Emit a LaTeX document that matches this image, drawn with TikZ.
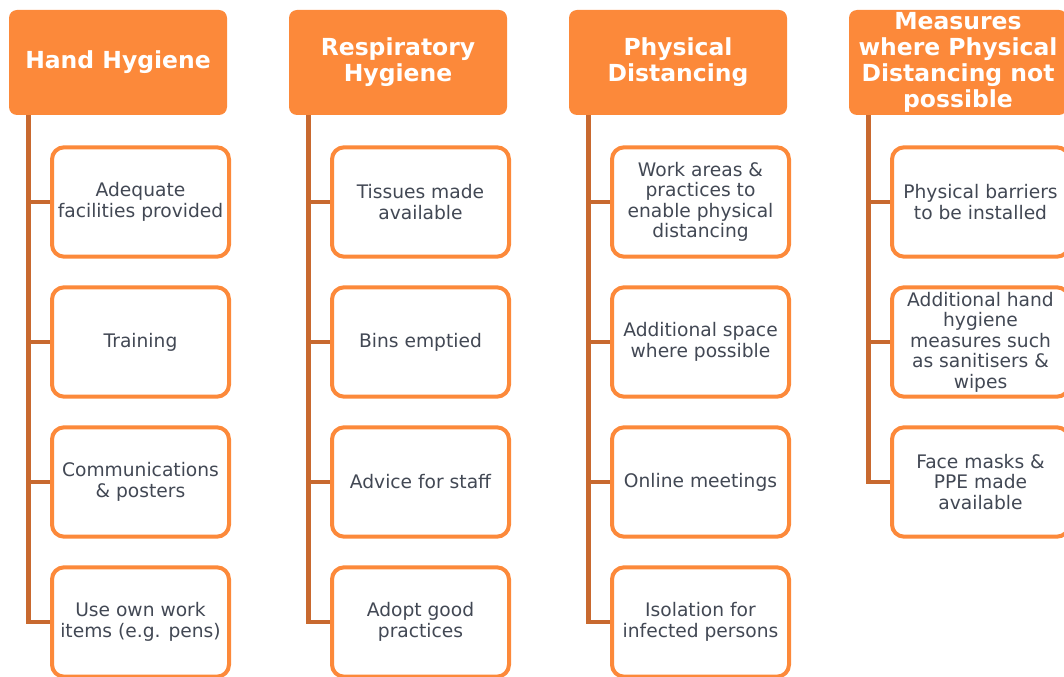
\documentclass[tikz,border=0pt]{standalone}
\usepackage{fontspec}
\setmainfont{DejaVu Sans}
\usetikzlibrary{positioning}
\definecolor{headorange}{RGB}{252, 137, 58}
\definecolor{trunkorange}{RGB}{200, 105, 47}
\definecolor{textgrey}{RGB}{66, 72, 84}
\tikzset{
    head/.style={
        fill=headorange,
        rounded corners=6pt,
        minimum width=163.5pt,
        minimum height=78.75pt,
        inner sep=1pt,
        align=center,
        text=white,
        font=\fontsize{17.6}{19.5}\selectfont\bfseries
    },
    item/.style={
        draw=headorange,
        fill=white,
        line width=3pt,
        rounded corners=9pt,
        minimum width=132.75pt,
        minimum height=82pt,
        inner sep=1pt,
        align=center,
        text=textgrey,
        font=\fontsize{14}{15.4}\selectfont
    },
    link/.style={
        draw=trunkorange,
        line width=3.4pt
    }
}

\begin{document}
\begin{tikzpicture}[x=0.75pt, y=-0.75pt]
    \useasboundingbox (0,0) rectangle (1064,677);

    % headers
    \node[head] (hand) at (118,62.5) {Hand Hygiene};
    \node[head] (resp) at (398,62.5) {Respiratory\\Hygiene};
    \node[head] (phys) at (678,62.5) {Physical\\Distancing};
    \node[head] (meas) at (958,62.5) {Measures\\where Physical\\Distancing not\\possible};

    % hand hygiene
    \node[item] (hand1) at (140.5,202) {Adequate\\facilities provided};
    \node[item] (hand2) at (140.5,342) {Training};
    \node[item] (hand3) at (140.5,482) {Communications\\\& posters};
    \node[item] (hand4) at (140.5,622) {Use own work\\items (e.g. pens)};

    % respiratory hygiene
    \node[item] (resp1) at (420.5,202) {Tissues made\\available};
    \node[item] (resp2) at (420.5,342) {Bins emptied};
    \node[item] (resp3) at (420.5,482) {Advice for staff};
    \node[item] (resp4) at (420.5,622) {Adopt good\\practices};

    % physical distancing
    \node[item] (phys1) at (700.5,202) {Work areas \&\\practices to\\enable physical\\distancing};
    \node[item] (phys2) at (700.5,342) {Additional space\\where possible};
    \node[item] (phys3) at (700.5,482) {Online meetings};
    \node[item] (phys4) at (700.5,622) {Isolation for\\infected persons};

    % where distancing not possible
    \node[item] (meas1) at (980.5,202) {Physical barriers\\to be installed};
    \node[item] (meas2) at (980.5,342) {Additional hand\\hygiene\\measures such\\as sanitisers \&\\wipes};
    \node[item] (meas3) at (980.5,482) {Face masks \&\\PPE made\\available};

    % connectors
    \draw[link] ([xshift=15pt]hand.south west) |- (hand4.west);
    \draw[link] ([xshift=15pt]hand.south west) |- (hand1.west);
    \draw[link] ([xshift=15pt]hand.south west) |- (hand2.west);
    \draw[link] ([xshift=15pt]hand.south west) |- (hand3.west);

    \draw[link] ([xshift=15pt]resp.south west) |- (resp4.west);
    \draw[link] ([xshift=15pt]resp.south west) |- (resp1.west);
    \draw[link] ([xshift=15pt]resp.south west) |- (resp2.west);
    \draw[link] ([xshift=15pt]resp.south west) |- (resp3.west);

    \draw[link] ([xshift=15pt]phys.south west) |- (phys4.west);
    \draw[link] ([xshift=15pt]phys.south west) |- (phys1.west);
    \draw[link] ([xshift=15pt]phys.south west) |- (phys2.west);
    \draw[link] ([xshift=15pt]phys.south west) |- (phys3.west);

    \draw[link] ([xshift=15pt]meas.south west) |- (meas3.west);
    \draw[link] ([xshift=15pt]meas.south west) |- (meas1.west);
    \draw[link] ([xshift=15pt]meas.south west) |- (meas2.west);
\end{tikzpicture}
\end{document}
